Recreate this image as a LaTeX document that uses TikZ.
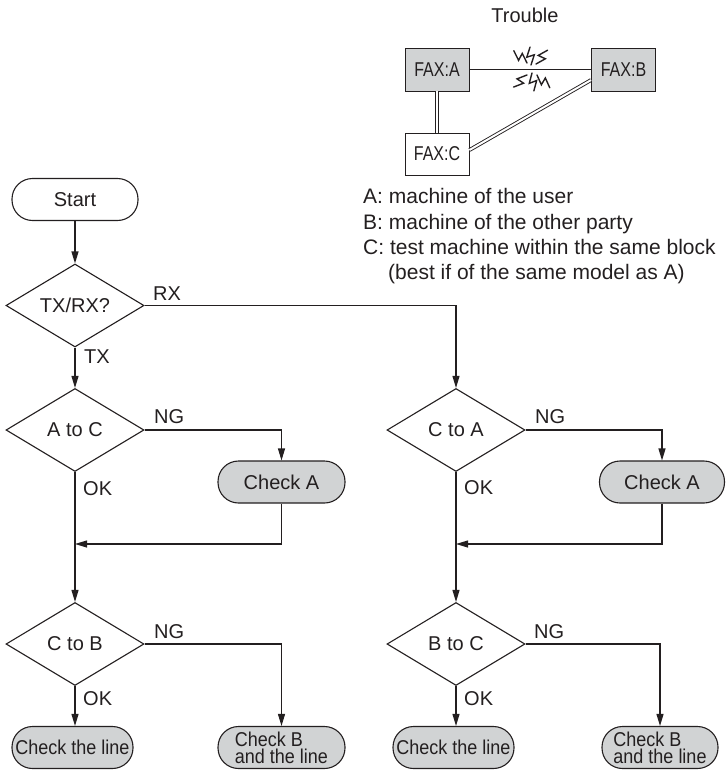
\documentclass[tikz,border=0pt]{standalone}
\usepackage{fontspec}
\setmainfont{Liberation Sans}
\newfontfamily\narrowA[FakeStretch=0.9]{Liberation Sans}
\newfontfamily\narrowB[FakeStretch=0.8]{Liberation Sans}
\usetikzlibrary{shapes.geometric,arrows.meta}
\definecolor{boxgray}{RGB}{209,211,212}
\definecolor{ink}{RGB}{35,31,32}
\begin{document}
\begin{tikzpicture}[x=1pt,y=-1pt,
  every node/.style={text=ink},
  ln/.style={draw=ink,line width=1.1pt},
  arr/.style={ln,-{Triangle[length=12pt,width=7pt]}},
  term/.style={ln,rectangle,rounded corners=20.5pt,minimum height=42pt,inner sep=0pt,font=\fontsize{20}{24}\selectfont},
  chk/.style={term,fill=boxgray},
  narrowtxt/.style={font=\narrowA\fontsize{20}{17}\selectfont},
  dec/.style={ln,diamond,minimum width=138pt,minimum height=83pt,inner sep=0pt,aspect=1.66,font=\fontsize{20}{24}\selectfont},
  lbl/.style={anchor=base west,inner sep=0pt,font=\fontsize{20}{24}\selectfont},
  fax/.style={draw=ink,line width=0.9pt,minimum width=64pt,minimum height=43pt,inner sep=0pt,font=\narrowB\fontsize{20}{24}\selectfont},
  leg/.style={anchor=base west,inner sep=0pt,font=\fontsize{21}{25}\selectfont},
  dbl/.style={draw=ink,line width=0.9pt,double=white,double distance=2pt},
  boltpic/.pic={\draw[ink,line width=1.4pt,line join=miter,line cap=round] (0,0) -- (10,3.8) -- (8,-3.8) -- (18,0);}
]
\useasboundingbox (0,0) rectangle (726,771);

% --- Trouble sketch ---
\node[font=\fontsize{20}{24}\selectfont] (trouble) at (525,15) {Trouble};
\node[fax,fill=boxgray] (faxA) at (437,69.5) {FAX:A};
\node[fax,fill=boxgray] (faxB) at (623.5,69.5) {FAX:B};
\node[fax,fill=white,minimum height=42pt] (faxC) at (437,154) {FAX:C};
\draw[ink,line width=0.9pt] (faxA) -- (faxB);
\pic[rotate=137] at (527,63) {boltpic};
\pic[rotate=93] at (531,65) {boltpic};
\pic[rotate=50] at (536,64) {boltpic};
\pic[rotate=222] at (527,75) {boltpic};
\pic[rotate=-84] at (532,73) {boltpic};
\pic[rotate=-45] at (537,75) {boltpic};
\draw[dbl] (faxA.south) -- (faxC.north);
\draw[dbl] (faxC.7) -- (faxB.198);

% --- Legend ---
\node[leg] (l1) at (363,203) {A: machine of the user};
\node[leg] (l2) at (363,229) {B: machine of the other party};
\node[leg] (l3) at (363,254) {C: test machine within the same block};
\node[leg] (l4) at (388,279) {(best if of the same model as A)};

% --- Flowchart ---
\node[term,minimum width=126pt] (start) at (75,199.5) {Start};
\node[dec] (txrx) at (75,305.5) {TX/RX?};
\node[dec] (atc) at (75,430) {A to C};
\node[dec] (ctb) at (75,644) {C to B};
\node[dec] (cta) at (456,430) {C to A};
\node[dec] (btc) at (456,644) {B to C};
\node[chk,minimum width=127pt] (chkAL) at (281.5,482) {Check A};
\node[chk,minimum width=125pt] (chkAR) at (662,482) {Check A};
\node[chk,narrowtxt,minimum width=121pt] (lineL) at (72.5,747.5) {Check the line};
\node[chk,narrowtxt,minimum width=121pt] (lineR) at (453.5,747.5) {Check the line};
\node[chk,narrowtxt,align=left,minimum width=127pt] (chkBL) at (281.5,747.5) {Check B\\and the line};
\node[chk,narrowtxt,align=left,minimum width=116pt] (chkBR) at (660,747.5) {Check B\\and the line};

\coordinate (jL) at (75,544);
\coordinate (jR) at (456,544);

\draw[arr] (start) -- (txrx);
\draw[arr] (txrx.east) -| (cta.north);
\draw[arr] (txrx.south) -- (atc.north);
\draw[arr] (atc.east) -| (chkAL.north);
\draw[arr] (chkAL.south) |- (jL);
\draw[arr] (atc.south) -- (ctb.north);
\draw[arr] (ctb.east) -| (chkBL.north);
\draw[arr] (ctb.south) -- (ctb.south |- lineL.north);
\draw[arr] (cta.east) -| (chkAR.north);
\draw[arr] (chkAR.south) |- (jR);
\draw[arr] (cta.south) -- (btc.north);
\draw[arr] (btc.east) -| (chkBR.north);
\draw[arr] (btc.south) -- (btc.south |- lineR.north);

\node[lbl] (rx) at (153,300) {RX};
\node[lbl] (tx) at (84,363) {TX};
\node[lbl] (ng1) at (154,423) {NG};
\node[lbl] (ok1) at (83,495) {OK};
\node[lbl] (ng2) at (535,423) {NG};
\node[lbl] (ok2) at (464,494) {OK};
\node[lbl] (ng3) at (154,638) {NG};
\node[lbl] (ok3) at (83,705) {OK};
\node[lbl] (ng4) at (534,638) {NG};
\node[lbl] (ok4) at (464,705) {OK};
\end{tikzpicture}
\end{document}
